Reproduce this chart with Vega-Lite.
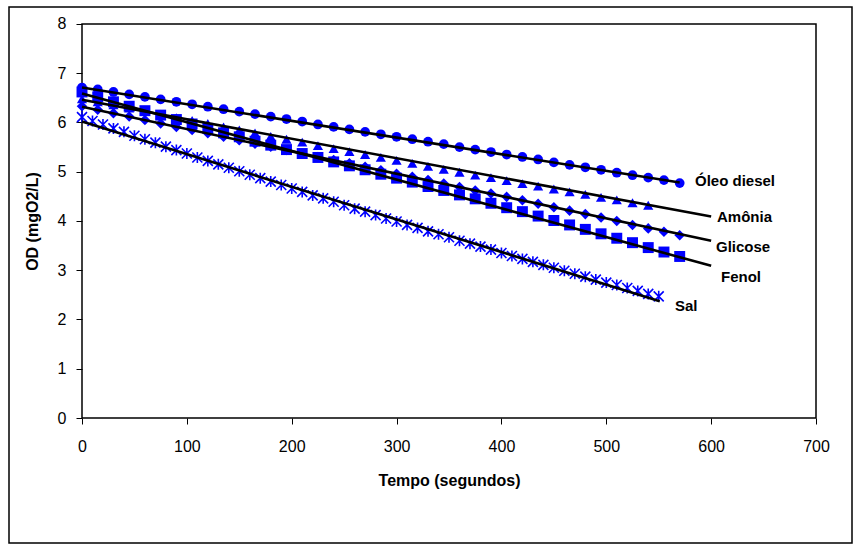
{
  "$schema": "https://vega.github.io/schema/vega-lite/v6.json",
  "width": 843,
  "height": 536,
  "autosize": "none",
  "padding": {"left": 9, "top": 7, "right": 10, "bottom": 8},
  "background": "white",
  "config": {
    "view": {"stroke": "black", "strokeWidth": 1.5},
    "font": "Liberation Sans"
  },
  "datasets": {
    "frame": [{"t": 0, "t2": 700, "od": 0, "od2": 8}],
    "pontos": [
      {"serie": "Óleo diesel", "t": 0, "od": 6.71}, {"serie": "Óleo diesel", "t": 15, "od": 6.67}, {"serie": "Óleo diesel", "t": 30, "od": 6.62}, {"serie": "Óleo diesel", "t": 45, "od": 6.57}, {"serie": "Óleo diesel", "t": 60, "od": 6.52}, {"serie": "Óleo diesel", "t": 75, "od": 6.47}, {"serie": "Óleo diesel", "t": 90, "od": 6.42}, {"serie": "Óleo diesel", "t": 105, "od": 6.37}, {"serie": "Óleo diesel", "t": 120, "od": 6.32}, {"serie": "Óleo diesel", "t": 135, "od": 6.27}, {"serie": "Óleo diesel", "t": 150, "od": 6.22}, {"serie": "Óleo diesel", "t": 165, "od": 6.17}, {"serie": "Óleo diesel", "t": 180, "od": 6.12}, {"serie": "Óleo diesel", "t": 195, "od": 6.07}, {"serie": "Óleo diesel", "t": 210, "od": 6.02}, {"serie": "Óleo diesel", "t": 225, "od": 5.96}, {"serie": "Óleo diesel", "t": 240, "od": 5.91}, {"serie": "Óleo diesel", "t": 255, "od": 5.86}, {"serie": "Óleo diesel", "t": 270, "od": 5.81}, {"serie": "Óleo diesel", "t": 285, "od": 5.76}, {"serie": "Óleo diesel", "t": 300, "od": 5.71}, {"serie": "Óleo diesel", "t": 315, "od": 5.66}, {"serie": "Óleo diesel", "t": 330, "od": 5.61}, {"serie": "Óleo diesel", "t": 345, "od": 5.56}, {"serie": "Óleo diesel", "t": 360, "od": 5.50}, {"serie": "Óleo diesel", "t": 375, "od": 5.45}, {"serie": "Óleo diesel", "t": 390, "od": 5.40}, {"serie": "Óleo diesel", "t": 405, "od": 5.35}, {"serie": "Óleo diesel", "t": 420, "od": 5.30}, {"serie": "Óleo diesel", "t": 435, "od": 5.25}, {"serie": "Óleo diesel", "t": 450, "od": 5.19}, {"serie": "Óleo diesel", "t": 465, "od": 5.14}, {"serie": "Óleo diesel", "t": 480, "od": 5.09}, {"serie": "Óleo diesel", "t": 495, "od": 5.04}, {"serie": "Óleo diesel", "t": 510, "od": 4.98}, {"serie": "Óleo diesel", "t": 525, "od": 4.93}, {"serie": "Óleo diesel", "t": 540, "od": 4.88}, {"serie": "Óleo diesel", "t": 555, "od": 4.83}, {"serie": "Óleo diesel", "t": 570, "od": 4.77},
      {"serie": "Amônia", "t": 0, "od": 6.48}, {"serie": "Amônia", "t": 15, "od": 6.42}, {"serie": "Amônia", "t": 30, "od": 6.36}, {"serie": "Amônia", "t": 45, "od": 6.29}, {"serie": "Amônia", "t": 60, "od": 6.23}, {"serie": "Amônia", "t": 75, "od": 6.17}, {"serie": "Amônia", "t": 90, "od": 6.10}, {"serie": "Amônia", "t": 105, "od": 6.04}, {"serie": "Amônia", "t": 120, "od": 5.98}, {"serie": "Amônia", "t": 135, "od": 5.91}, {"serie": "Amônia", "t": 150, "od": 5.85}, {"serie": "Amônia", "t": 165, "od": 5.79}, {"serie": "Amônia", "t": 180, "od": 5.72}, {"serie": "Amônia", "t": 195, "od": 5.66}, {"serie": "Amônia", "t": 210, "od": 5.60}, {"serie": "Amônia", "t": 225, "od": 5.53}, {"serie": "Amônia", "t": 240, "od": 5.47}, {"serie": "Amônia", "t": 255, "od": 5.41}, {"serie": "Amônia", "t": 270, "od": 5.35}, {"serie": "Amônia", "t": 285, "od": 5.29}, {"serie": "Amônia", "t": 300, "od": 5.23}, {"serie": "Amônia", "t": 315, "od": 5.17}, {"serie": "Amônia", "t": 330, "od": 5.11}, {"serie": "Amônia", "t": 345, "od": 5.05}, {"serie": "Amônia", "t": 360, "od": 4.99}, {"serie": "Amônia", "t": 375, "od": 4.93}, {"serie": "Amônia", "t": 390, "od": 4.88}, {"serie": "Amônia", "t": 405, "od": 4.82}, {"serie": "Amônia", "t": 420, "od": 4.76}, {"serie": "Amônia", "t": 435, "od": 4.71}, {"serie": "Amônia", "t": 450, "od": 4.65}, {"serie": "Amônia", "t": 465, "od": 4.59}, {"serie": "Amônia", "t": 480, "od": 4.54}, {"serie": "Amônia", "t": 495, "od": 4.48}, {"serie": "Amônia", "t": 510, "od": 4.43}, {"serie": "Amônia", "t": 525, "od": 4.37}, {"serie": "Amônia", "t": 540, "od": 4.32},
      {"serie": "Glicose", "t": 0, "od": 6.33}, {"serie": "Glicose", "t": 15, "od": 6.26}, {"serie": "Glicose", "t": 30, "od": 6.19}, {"serie": "Glicose", "t": 45, "od": 6.12}, {"serie": "Glicose", "t": 60, "od": 6.05}, {"serie": "Glicose", "t": 75, "od": 5.98}, {"serie": "Glicose", "t": 90, "od": 5.91}, {"serie": "Glicose", "t": 105, "od": 5.85}, {"serie": "Glicose", "t": 120, "od": 5.78}, {"serie": "Glicose", "t": 135, "od": 5.71}, {"serie": "Glicose", "t": 150, "od": 5.64}, {"serie": "Glicose", "t": 165, "od": 5.57}, {"serie": "Glicose", "t": 180, "od": 5.51}, {"serie": "Glicose", "t": 195, "od": 5.44}, {"serie": "Glicose", "t": 210, "od": 5.37}, {"serie": "Glicose", "t": 225, "od": 5.30}, {"serie": "Glicose", "t": 240, "od": 5.24}, {"serie": "Glicose", "t": 255, "od": 5.17}, {"serie": "Glicose", "t": 270, "od": 5.10}, {"serie": "Glicose", "t": 285, "od": 5.03}, {"serie": "Glicose", "t": 300, "od": 4.96}, {"serie": "Glicose", "t": 315, "od": 4.90}, {"serie": "Glicose", "t": 330, "od": 4.83}, {"serie": "Glicose", "t": 345, "od": 4.76}, {"serie": "Glicose", "t": 360, "od": 4.69}, {"serie": "Glicose", "t": 375, "od": 4.62}, {"serie": "Glicose", "t": 390, "od": 4.56}, {"serie": "Glicose", "t": 405, "od": 4.49}, {"serie": "Glicose", "t": 420, "od": 4.42}, {"serie": "Glicose", "t": 435, "od": 4.35}, {"serie": "Glicose", "t": 450, "od": 4.28}, {"serie": "Glicose", "t": 465, "od": 4.21}, {"serie": "Glicose", "t": 480, "od": 4.14}, {"serie": "Glicose", "t": 495, "od": 4.07}, {"serie": "Glicose", "t": 510, "od": 4.00}, {"serie": "Glicose", "t": 525, "od": 3.92}, {"serie": "Glicose", "t": 540, "od": 3.85}, {"serie": "Glicose", "t": 555, "od": 3.78}, {"serie": "Glicose", "t": 570, "od": 3.71},
      {"serie": "Fenol", "t": 0, "od": 6.62}, {"serie": "Fenol", "t": 15, "od": 6.52}, {"serie": "Fenol", "t": 30, "od": 6.42}, {"serie": "Fenol", "t": 45, "od": 6.33}, {"serie": "Fenol", "t": 60, "od": 6.24}, {"serie": "Fenol", "t": 75, "od": 6.15}, {"serie": "Fenol", "t": 90, "od": 6.06}, {"serie": "Fenol", "t": 105, "od": 5.97}, {"serie": "Fenol", "t": 120, "od": 5.88}, {"serie": "Fenol", "t": 135, "od": 5.79}, {"serie": "Fenol", "t": 150, "od": 5.71}, {"serie": "Fenol", "t": 165, "od": 5.62}, {"serie": "Fenol", "t": 180, "od": 5.54}, {"serie": "Fenol", "t": 195, "od": 5.45}, {"serie": "Fenol", "t": 210, "od": 5.37}, {"serie": "Fenol", "t": 225, "od": 5.29}, {"serie": "Fenol", "t": 240, "od": 5.20}, {"serie": "Fenol", "t": 255, "od": 5.12}, {"serie": "Fenol", "t": 270, "od": 5.04}, {"serie": "Fenol", "t": 285, "od": 4.95}, {"serie": "Fenol", "t": 300, "od": 4.87}, {"serie": "Fenol", "t": 315, "od": 4.79}, {"serie": "Fenol", "t": 330, "od": 4.70}, {"serie": "Fenol", "t": 345, "od": 4.62}, {"serie": "Fenol", "t": 360, "od": 4.53}, {"serie": "Fenol", "t": 375, "od": 4.45}, {"serie": "Fenol", "t": 390, "od": 4.36}, {"serie": "Fenol", "t": 405, "od": 4.27}, {"serie": "Fenol", "t": 420, "od": 4.19}, {"serie": "Fenol", "t": 435, "od": 4.10}, {"serie": "Fenol", "t": 450, "od": 4.01}, {"serie": "Fenol", "t": 465, "od": 3.92}, {"serie": "Fenol", "t": 480, "od": 3.83}, {"serie": "Fenol", "t": 495, "od": 3.74}, {"serie": "Fenol", "t": 510, "od": 3.65}, {"serie": "Fenol", "t": 525, "od": 3.56}, {"serie": "Fenol", "t": 540, "od": 3.46}, {"serie": "Fenol", "t": 555, "od": 3.37}, {"serie": "Fenol", "t": 570, "od": 3.28}
    ],
    "sal": [
      {"serie": "Sal", "t": 0, "od": 6.11}, {"serie": "Sal", "t": 10, "od": 6.03}, {"serie": "Sal", "t": 20, "od": 5.96}, {"serie": "Sal", "t": 30, "od": 5.88}, {"serie": "Sal", "t": 40, "od": 5.81}, {"serie": "Sal", "t": 50, "od": 5.73}, {"serie": "Sal", "t": 60, "od": 5.66}, {"serie": "Sal", "t": 70, "od": 5.59}, {"serie": "Sal", "t": 80, "od": 5.51}, {"serie": "Sal", "t": 90, "od": 5.44}, {"serie": "Sal", "t": 100, "od": 5.37}, {"serie": "Sal", "t": 110, "od": 5.29}, {"serie": "Sal", "t": 120, "od": 5.22}, {"serie": "Sal", "t": 130, "od": 5.15}, {"serie": "Sal", "t": 140, "od": 5.08}, {"serie": "Sal", "t": 150, "od": 5.01}, {"serie": "Sal", "t": 160, "od": 4.94}, {"serie": "Sal", "t": 170, "od": 4.87}, {"serie": "Sal", "t": 180, "od": 4.80}, {"serie": "Sal", "t": 190, "od": 4.73}, {"serie": "Sal", "t": 200, "od": 4.66}, {"serie": "Sal", "t": 210, "od": 4.59}, {"serie": "Sal", "t": 220, "od": 4.52}, {"serie": "Sal", "t": 230, "od": 4.46}, {"serie": "Sal", "t": 240, "od": 4.39}, {"serie": "Sal", "t": 250, "od": 4.32}, {"serie": "Sal", "t": 260, "od": 4.25}, {"serie": "Sal", "t": 270, "od": 4.19}, {"serie": "Sal", "t": 280, "od": 4.12}, {"serie": "Sal", "t": 290, "od": 4.05}, {"serie": "Sal", "t": 300, "od": 3.99}, {"serie": "Sal", "t": 310, "od": 3.92}, {"serie": "Sal", "t": 320, "od": 3.86}, {"serie": "Sal", "t": 330, "od": 3.79}, {"serie": "Sal", "t": 340, "od": 3.73}, {"serie": "Sal", "t": 350, "od": 3.67}, {"serie": "Sal", "t": 360, "od": 3.60}, {"serie": "Sal", "t": 370, "od": 3.54}, {"serie": "Sal", "t": 380, "od": 3.48}, {"serie": "Sal", "t": 390, "od": 3.42}, {"serie": "Sal", "t": 400, "od": 3.35}, {"serie": "Sal", "t": 410, "od": 3.29}, {"serie": "Sal", "t": 420, "od": 3.23}, {"serie": "Sal", "t": 430, "od": 3.17}, {"serie": "Sal", "t": 440, "od": 3.11}, {"serie": "Sal", "t": 450, "od": 3.05}, {"serie": "Sal", "t": 460, "od": 2.99}, {"serie": "Sal", "t": 470, "od": 2.93}, {"serie": "Sal", "t": 480, "od": 2.87}, {"serie": "Sal", "t": 490, "od": 2.81}, {"serie": "Sal", "t": 500, "od": 2.75}, {"serie": "Sal", "t": 510, "od": 2.70}, {"serie": "Sal", "t": 520, "od": 2.64}, {"serie": "Sal", "t": 530, "od": 2.58}, {"serie": "Sal", "t": 540, "od": 2.52}, {"serie": "Sal", "t": 550, "od": 2.47}
    ],
    "tendencias": [
      {"serie": "Óleo diesel", "t": 0, "od": 6.71}, {"serie": "Óleo diesel", "t": 570, "od": 4.78},
      {"serie": "Amônia", "t": 0, "od": 6.46}, {"serie": "Amônia", "t": 600, "od": 4.09},
      {"serie": "Glicose", "t": 0, "od": 6.32}, {"serie": "Glicose", "t": 600, "od": 3.60},
      {"serie": "Fenol", "t": 0, "od": 6.59}, {"serie": "Fenol", "t": 600, "od": 3.09},
      {"serie": "Sal", "t": 0, "od": 6.02}, {"serie": "Sal", "t": 551, "od": 2.37}
    ],
    "rotulos": [
      {"label": "Óleo diesel", "t": 584.6, "od": 4.81},
      {"label": "Amônia", "t": 605.6, "od": 4.08},
      {"label": "Glicose", "t": 604.6, "od": 3.47},
      {"label": "Fenol", "t": 609.4, "od": 2.86},
      {"label": "Sal", "t": 565.5, "od": 2.27}
    ]
  },
  "encoding": {
    "x": {
      "field": "t", "type": "quantitative",
      "scale": {"domain": [-69.62, 734.33], "nice": false, "zero": false},
      "axis": {
        "values": [0, 100, 200, 300, 400, 500, 600, 700],
        "offset": -125, "domain": false, "grid": false,
        "tickColor": "black", "tickSize": 6, "tickWidth": 1,
        "labelFont": "Liberation Sans", "labelFontSize": 16, "labelColor": "black", "labelPadding": 14,
        "labelFlush": false, "labelOverlap": false,
        "title": "Tempo (segundos)", "titleFont": "Liberation Sans", "titleFontSize": 16, "titleFontWeight": "bold", "titleColor": "black",
        "titleX": 440, "titleY": 62, "titleBaseline": "middle", "titleAlign": "center"
      }
    },
    "y": {
      "field": "od", "type": "quantitative",
      "scale": {"domain": [-2.538, 8.345], "nice": false, "zero": false},
      "axis": {
        "values": [0, 1, 2, 3, 4, 5, 6, 7, 8],
        "offset": -73, "domain": false, "grid": false,
        "tickColor": "black", "tickSize": 6, "tickWidth": 1,
        "labelFont": "Liberation Sans", "labelFontSize": 16, "labelColor": "black", "labelPadding": 10,
        "labelFlush": false, "labelOverlap": false,
        "title": "OD (mgO2/L)", "titleFont": "Liberation Sans", "titleFontSize": 16, "titleFontWeight": "bold", "titleColor": "black",
        "titleX": -50, "titleY": 214, "titleBaseline": "middle", "titleAlign": "center", "titleAngle": -90
      }
    }
  },
  "layer": [
    {
      "data": {"name": "frame"},
      "mark": {"type": "rect", "fill": "white", "fillOpacity": 0, "stroke": "black", "strokeWidth": 1.5},
      "encoding": {"x2": {"field": "t2"}, "y2": {"field": "od2"}}
    },
    {
      "data": {"name": "pontos"},
      "mark": {"type": "point", "filled": true, "opacity": 1, "color": "#0000FF"},
      "encoding": {
        "shape": {
          "field": "serie", "type": "nominal", "legend": null,
          "scale": {"domain": ["Óleo diesel", "Amônia", "Glicose", "Fenol"], "range": ["circle", "triangle-up", "diamond", "square"]}
        },
        "size": {
          "field": "serie", "type": "nominal", "legend": null,
          "scale": {"domain": ["Óleo diesel", "Amônia", "Glicose", "Fenol"], "range": [95, 120, 220, 80]}
        }
      }
    },
    {
      "data": {"name": "sal"},
      "mark": {"type": "point", "filled": false, "opacity": 1, "stroke": "#0000FF", "strokeWidth": 1.6, "size": 100,
               "shape": "M-1,-1L1,1M-1,1L1,-1M0,-1.1L0,1.1"}
    },
    {
      "data": {"name": "tendencias"},
      "mark": {"type": "line", "color": "black", "strokeWidth": 2.6},
      "encoding": {"detail": {"field": "serie"}}
    },
    {
      "data": {"name": "rotulos"},
      "mark": {"type": "text", "align": "left", "baseline": "middle", "font": "Liberation Sans", "fontSize": 15, "fontWeight": "bold", "color": "black"},
      "encoding": {"text": {"field": "label"}}
    }
  ]
}
